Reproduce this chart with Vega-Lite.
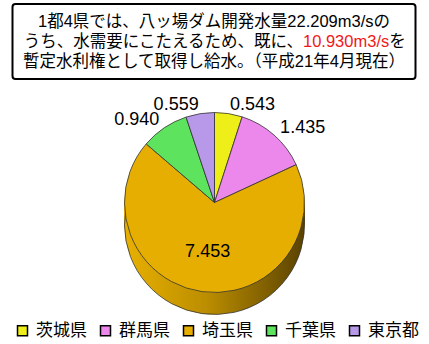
{
  "$schema": "https://vega.github.io/schema/vega-lite/v6.json",
  "background": "white",
  "padding": {"top": 3, "bottom": 5, "left": 0, "right": 0},
  "spacing": 10,
  "center": true,
  "datasets": {
    "lines": [
      {"line": 1, "part": "a", "text": "1都4県では、八ッ場ダム開発水量22.209m3/sの"},
      {"line": 2, "part": "a", "text": "うち、水需要にこたえるため、既に、"},
      {"line": 2, "part": "b", "text": "10.930m3/s"},
      {"line": 2, "part": "c", "text": "を"},
      {"line": 3, "part": "a", "text": "暫定水利権として取得し給水。（平成21年4月現在）"}
    ],
    "water": [
      {"pref": "茨城県", "idx": 1, "value": 0.543},
      {"pref": "群馬県", "idx": 2, "value": 1.435},
      {"pref": "埼玉県", "idx": 3, "value": 7.453},
      {"pref": "千葉県", "idx": 4, "value": 0.940},
      {"pref": "東京都", "idx": 5, "value": 0.559}
    ]
  },
  "vconcat": [
    {
      "width": 403,
      "height": 75,
      "view": {"stroke": "black", "strokeWidth": 2, "cornerRadius": 3, "fill": "white"},
      "data": {"name": "lines"},
      "encoding": {
        "y": {"field": "line", "type": "ordinal", "scale": {"type": "point", "padding": 0.875}, "axis": null},
        "text": {"field": "text", "type": "nominal"}
      },
      "layer": [
        {"transform": [{"filter": "datum.part === 'a' && datum.line !== 2"}],
         "mark": {"type": "text", "align": "center", "baseline": "middle", "font": "Liberation Sans, Noto Sans CJK JP", "fontSize": 16.5, "color": "black"}},
        {"transform": [{"filter": "datum.part === 'a' && datum.line === 2"}],
         "mark": {"type": "text", "align": "right", "dx": 88.9, "baseline": "middle", "font": "Liberation Sans, Noto Sans CJK JP", "fontSize": 16.5, "color": "black"}},
        {"transform": [{"filter": "datum.part === 'b'"}],
         "mark": {"type": "text", "align": "left", "dx": 89, "baseline": "middle", "font": "Liberation Sans, Noto Sans CJK JP", "fontSize": 16.5, "color": "#F01818"}},
        {"transform": [{"filter": "datum.part === 'c'"}],
         "mark": {"type": "text", "align": "left", "dx": 175.2, "baseline": "middle", "font": "Liberation Sans, Noto Sans CJK JP", "fontSize": 16.5, "color": "black"}}
      ]
    },
    {
      "width": 429,
      "height": 225,
      "view": {"stroke": null},
      "data": {"name": "water"},
      "encoding": {
        "theta": {"field": "value", "type": "quantitative", "stack": true},
        "detail": {"field": "pref", "type": "nominal"},
        "order": {"field": "idx", "type": "quantitative"}
      },
      "layer": [
        {"mark": {"type": "arc", "radius": 90, "yOffset": 2, "strokeWidth": 0, "fill": {"gradient": "linear", "x1": 0, "y1": 0, "x2": 1, "y2": 0, "stops": [{"offset": 0, "color": "#E8B000"}, {"offset": 0.45, "color": "#BC8E00"}, {"offset": 1, "color": "#5A4200"}]}}},
        {"mark": {"type": "arc", "radius": 90, "yOffset": 4, "strokeWidth": 0, "fill": {"gradient": "linear", "x1": 0, "y1": 0, "x2": 1, "y2": 0, "stops": [{"offset": 0, "color": "#E8B000"}, {"offset": 0.45, "color": "#BC8E00"}, {"offset": 1, "color": "#5A4200"}]}}},
        {"mark": {"type": "arc", "radius": 90, "yOffset": 6, "strokeWidth": 0, "fill": {"gradient": "linear", "x1": 0, "y1": 0, "x2": 1, "y2": 0, "stops": [{"offset": 0, "color": "#E8B000"}, {"offset": 0.45, "color": "#BC8E00"}, {"offset": 1, "color": "#5A4200"}]}}},
        {"mark": {"type": "arc", "radius": 90, "yOffset": 8, "strokeWidth": 0, "fill": {"gradient": "linear", "x1": 0, "y1": 0, "x2": 1, "y2": 0, "stops": [{"offset": 0, "color": "#E8B000"}, {"offset": 0.45, "color": "#BC8E00"}, {"offset": 1, "color": "#5A4200"}]}}},
        {"mark": {"type": "arc", "radius": 90, "yOffset": 10, "strokeWidth": 0, "fill": {"gradient": "linear", "x1": 0, "y1": 0, "x2": 1, "y2": 0, "stops": [{"offset": 0, "color": "#E8B000"}, {"offset": 0.45, "color": "#BC8E00"}, {"offset": 1, "color": "#5A4200"}]}}},
        {"mark": {"type": "arc", "radius": 90, "yOffset": 12, "strokeWidth": 0, "fill": {"gradient": "linear", "x1": 0, "y1": 0, "x2": 1, "y2": 0, "stops": [{"offset": 0, "color": "#E8B000"}, {"offset": 0.45, "color": "#BC8E00"}, {"offset": 1, "color": "#5A4200"}]}}},
        {"mark": {"type": "arc", "radius": 90, "yOffset": 14, "strokeWidth": 0, "fill": {"gradient": "linear", "x1": 0, "y1": 0, "x2": 1, "y2": 0, "stops": [{"offset": 0, "color": "#E8B000"}, {"offset": 0.45, "color": "#BC8E00"}, {"offset": 1, "color": "#5A4200"}]}}},
        {"mark": {"type": "arc", "radius": 90, "yOffset": 16, "strokeWidth": 0, "fill": {"gradient": "linear", "x1": 0, "y1": 0, "x2": 1, "y2": 0, "stops": [{"offset": 0, "color": "#E8B000"}, {"offset": 0.45, "color": "#BC8E00"}, {"offset": 1, "color": "#5A4200"}]}}},
        {"mark": {"type": "arc", "radius": 90, "yOffset": 18, "strokeWidth": 0, "fill": {"gradient": "linear", "x1": 0, "y1": 0, "x2": 1, "y2": 0, "stops": [{"offset": 0, "color": "#E8B000"}, {"offset": 0.45, "color": "#BC8E00"}, {"offset": 1, "color": "#5A4200"}]}}},
        {"mark": {"type": "arc", "radius": 90, "yOffset": 20, "strokeWidth": 0, "fill": {"gradient": "linear", "x1": 0, "y1": 0, "x2": 1, "y2": 0, "stops": [{"offset": 0, "color": "#E8B000"}, {"offset": 0.45, "color": "#BC8E00"}, {"offset": 1, "color": "#5A4200"}]}}},
        {"mark": {"type": "arc", "radius": 90, "yOffset": 22, "stroke": "#333333", "strokeWidth": 0.8, "fill": {"gradient": "linear", "x1": 0, "y1": 0, "x2": 1, "y2": 0, "stops": [{"offset": 0, "color": "#E8B000"}, {"offset": 0.45, "color": "#BC8E00"}, {"offset": 1, "color": "#5A4200"}]}}},
        {
          "mark": {"type": "arc", "radius": 90, "stroke": "#333333", "strokeWidth": 0.8},
          "encoding": {
            "color": {
              "field": "pref", "type": "nominal",
              "scale": {"domain": ["茨城県", "群馬県", "埼玉県", "千葉県", "東京都"], "range": ["#EEEE18", "#EC88EC", "#E6AE00", "#5EE35E", "#B898E8"]},
              "legend": {"orient": "none", "legendX": 14, "legendY": 318, "direction": "horizontal", "columns": 5, "title": null, "symbolType": "square", "symbolSize": 100, "symbolStrokeColor": "black", "symbolStrokeWidth": 1.5, "labelFont": "Noto Sans CJK JP", "labelFontSize": 17, "labelColor": "black", "labelOffset": 5, "columnPadding": 10, "labelLimit": 200}
            }
          }
        },
        {
          "mark": {"type": "text", "radius": 99, "align": "left", "baseline": "middle", "font": "Liberation Sans", "fontSize": 18, "color": "black"},
          "encoding": {
            "text": {"field": "value", "type": "quantitative", "format": ".3f"},
            "opacity": {"condition": {"test": "datum.idx <= 2", "value": 1}, "value": 0}
          }
        },
        {
          "mark": {"type": "text", "radius": 99, "align": "right", "baseline": "middle", "font": "Liberation Sans", "fontSize": 18, "color": "black"},
          "encoding": {
            "text": {"field": "value", "type": "quantitative", "format": ".3f"},
            "opacity": {"condition": {"test": "datum.idx >= 4", "value": 1}, "value": 0}
          }
        },
        {
          "mark": {"type": "text", "radius": 50, "align": "center", "baseline": "middle", "font": "Liberation Sans", "fontSize": 18, "color": "black"},
          "encoding": {
            "text": {"field": "value", "type": "quantitative", "format": ".3f"},
            "opacity": {"condition": {"test": "datum.idx === 3", "value": 1}, "value": 0}
          }
        }
      ]
    }
  ]
}
